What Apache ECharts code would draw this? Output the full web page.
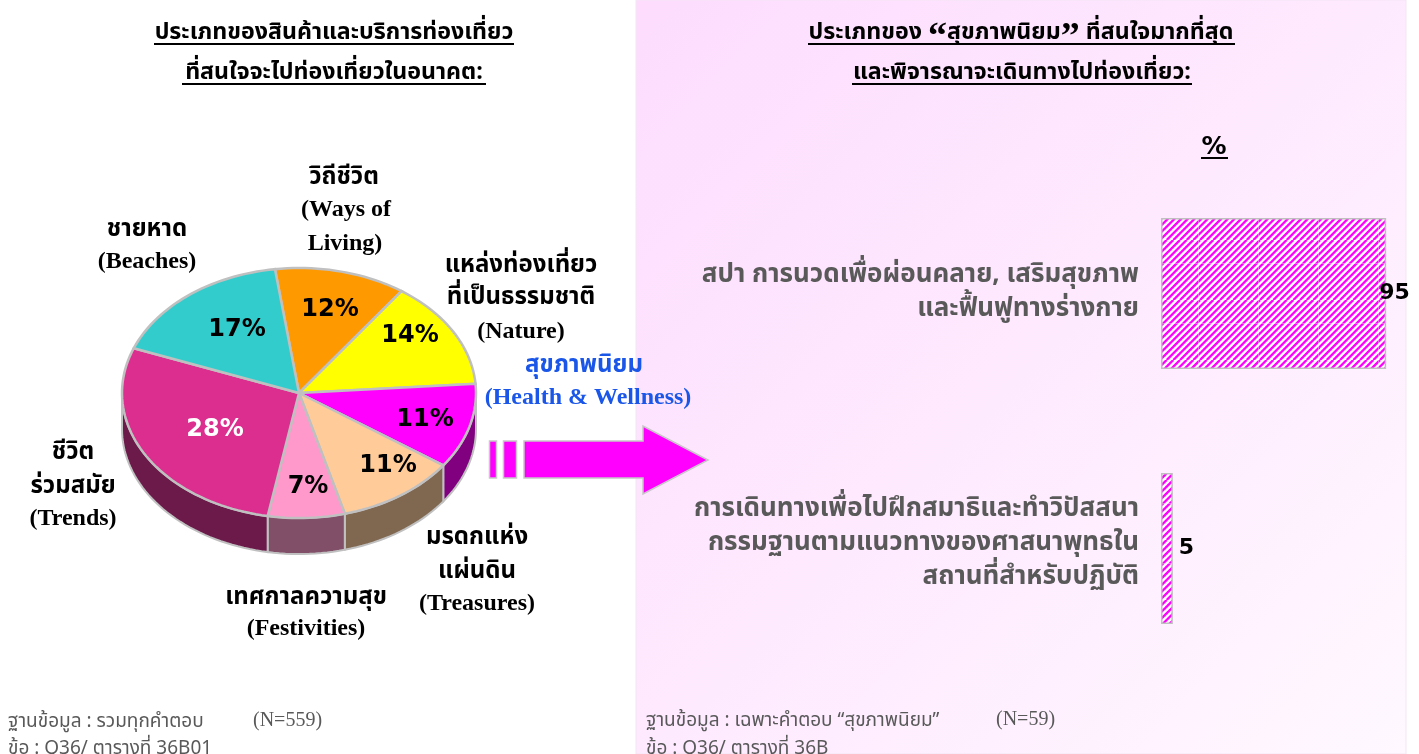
<!DOCTYPE html>
<html>
<head>
<meta charset="utf-8">
<title>Chart</title>
<script src="https://cdn.jsdelivr.net/npm/echarts@6/dist/echarts.min.js"></script>
<style>
html, body { margin: 0; padding: 0; background: #fff; overflow: hidden; }
#chart { width: 1419px; height: 754px; }
</style>
</head>
<body>
<div id="chart"></div>
<script>
// pie, clockwise from the top
const pieNames = ['วิถีชีวิต', 'แหล่งท่องเที่ยวธรรมชาติ', 'สุขภาพนิยม', 'มรดกแห่งแผ่นดิน', 'เทศกาลความสุข', 'ชีวิตร่วมสมัย', 'ชายหาด']
const pieValues = [12, 14, 11, 11, 7, 28, 17]
const pieColors = ['#ff9900', '#ffff00', '#ff00ff', '#ffcc99', '#ff99cc', '#db2e8f', '#33cccc']
const wallColors = ['#805000', '#808000', '#800080', '#806750', '#824f69', '#6b1a4a', '#1a6666']

// bars
const barCategories = [
  'สปา การนวดเพื่อผ่อนคลาย, เสริมสุขภาพ\nและฟื้นฟูทางร่างกาย',
  'การเดินทางเพื่อไปฝึกสมาธิและทำวิปัสสนา\nกรรมฐานตามแนวทางของศาสนาพุทธใน\nสถานที่สำหรับปฏิบัติ'
]
const barValues = [95, 5]
const barLabelOffsets = [[-13, 0], [0, 0]]

const THAI = '"Noto Sans Thai", "Noto Serif Thai", "Liberation Serif", "DejaVu Sans", sans-serif'
const SANS = '"DejaVu Sans", sans-serif'
const SERIF = '"Liberation Serif", serif'

const PIE = { cx: 299, cy: 393, rx: 177, ry: 125, depth: 36, start: -7.8 }
const pctPos = [[330, 310], [410, 336], [425, 420], [388, 466], [308, 487], [215, 430], [237, 330]]

const pt = (deg, dy = 0) => {
  const a = deg * Math.PI / 180
  return [PIE.cx + PIE.rx * Math.sin(a), PIE.cy + dy - PIE.ry * Math.cos(a)]
}

const arc = (from, to, dy = 0) => {
  const pts = []
  const n = Math.max(2, Math.ceil((to - from) / 2))
  for (let i = 0; i <= n; i++) pts.push(pt(from + (to - from) * i / n, dy))
  return pts
}

const sliceRange = (idx) => {
  const total = pieValues.reduce((a, b) => a + b, 0)
  const before = pieValues.slice(0, idx).reduce((a, b) => a + b, 0)
  return [PIE.start + before / total * 360, PIE.start + (before + pieValues[idx]) / total * 360]
}

const renderWall = (params) => {
  const [from, to] = sliceRange(params.dataIndex)
  // only the near half of the rim shows
  const a = Math.max(from, 90)
  const b = Math.min(to, 270)
  if (b <= a) return { type: 'group', children: [] }
  return {
    type: 'polygon',
    shape: { points: arc(a, b).concat(arc(a, b, PIE.depth).reverse()) },
    style: { fill: wallColors[params.dataIndex], stroke: '#c0c0c0', lineWidth: 2 }
  }
}

const renderTop = (params, api) => {
  const [from, to] = sliceRange(params.dataIndex)
  return {
    type: 'group',
    children: [
      {
        type: 'polygon',
        shape: { points: [[PIE.cx, PIE.cy]].concat(arc(from, to)) },
        style: { fill: pieColors[params.dataIndex], stroke: '#c0c0c0', lineWidth: 2.5 }
      },
      {
        type: 'text',
        z2: 10,
        style: {
          x: pctPos[params.dataIndex][0],
          y: pctPos[params.dataIndex][1],
          text: api.value(0) + '%',
          align: 'center',
          verticalAlign: 'middle',
          fill: params.dataIndex === 5 ? '#fff' : '#000',
          font: 'bold 24px ' + SANS
        }
      }
    ]
  }
}

// hatched bar fill, 60px tile with the faint seam the original has
const makeHatch = () => {
  const c = document.createElement('canvas')
  c.width = 60
  c.height = 60
  const ctx = c.getContext('2d')
  ctx.fillStyle = '#fff'
  ctx.fillRect(0, 0, 60, 60)
  ctx.strokeStyle = '#ff00ff'
  ctx.lineWidth = 2.4
  const step = 60 / 9
  for (let i = -9; i <= 18; i++) {
    ctx.beginPath()
    ctx.moveTo(i * step, 60)
    ctx.lineTo(i * step + 60, 0)
    ctx.stroke()
  }
  ctx.fillStyle = 'rgba(255,255,255,0.35)'
  ctx.fillRect(58, 0, 1, 60)
  ctx.fillRect(0, 23, 60, 1)
  return c
}

const textEl = (x, y, text, font, fill, align = 'center', rich) => ({
  type: 'text',
  x,
  y,
  style: { text, font, fill, align, verticalAlign: 'middle', rich }
})

const underline = (x1, x2, y) => ({
  type: 'line',
  shape: { x1, y1: y, x2, y2: y },
  style: { stroke: '#000', lineWidth: 2 }
})

const arrowStyle = { fill: '#ff00ff', stroke: '#c8c8c8', lineWidth: 1.5 }
const titleFont = 'bold 23.2px ' + THAI
const labelFont = 'bold 24px ' + THAI
const latinFont = 'bold 24px ' + SERIF
const noteFont = '19px ' + THAI
const noteLatin = '20px ' + SERIF
const BLUE = '#1a56e8'
const GREY = '#595959'

const graphics = [
  {
    type: 'rect',
    z: -10,
    shape: { x: 636, y: 0, width: 770, height: 754 },
    style: {
      fill: new echarts.graphic.LinearGradient(0, 0, 1, 1, [
        { offset: 0, color: '#fddcfe' },
        { offset: 1, color: '#fff8ff' }
      ]),
      stroke: '#f3e6f3',
      lineWidth: 1
    }
  },
  textEl(334, 34, 'ประเภทของสินค้าและบริการท่องเที่ยว', titleFont, '#000'),
  textEl(334, 74, 'ที่สนใจจะไปท่องเที่ยวในอนาคต:', titleFont, '#000'),
  underline(154, 514, 44),
  underline(182, 486, 84),
  textEl(1021, 34, 'ประเภทของ {q|“}สุขภาพนิยม{q|”} ที่สนใจมากที่สุด', titleFont, '#000', 'center', {
    q: { font: 'bold 38px ' + SERIF, fill: '#000', padding: [8, 0, 0, 0] }
  }),
  textEl(1022, 74, 'และพิจารณาจะเดินทางไปท่องเที่ยว:', titleFont, '#000'),
  underline(808, 1235, 44),
  underline(852, 1192, 84),
  textEl(1214, 147, '%', 'bold 25px ' + SANS, '#000'),
  underline(1201, 1228, 158),

  textEl(344, 179, 'วิถีชีวิต', labelFont, '#000'),
  textEl(346, 210, '(Ways of', latinFont, '#000'),
  textEl(345, 244, 'Living)', latinFont, '#000'),
  textEl(147, 231, 'ชายหาด', labelFont, '#000'),
  textEl(147, 262, '(Beaches)', latinFont, '#000'),
  textEl(521, 267, 'แหล่งท่องเที่ยว', labelFont, '#000'),
  textEl(521, 299, 'ที่เป็นธรรมชาติ', labelFont, '#000'),
  textEl(521, 332, '(Nature)', latinFont, '#000'),
  textEl(584, 367, 'สุขภาพนิยม', labelFont, BLUE),
  textEl(588, 398, '(Health & Wellness)', latinFont, BLUE),
  textEl(477, 539, 'มรดกแห่ง', labelFont, '#000'),
  textEl(477, 573, 'แผ่นดิน', labelFont, '#000'),
  textEl(477, 604, '(Treasures)', latinFont, '#000'),
  textEl(306, 599, 'เทศกาลความสุข', labelFont, '#000'),
  textEl(306, 629, '(Festivities)', latinFont, '#000'),
  textEl(73, 454, 'ชีวิต', labelFont, '#000'),
  textEl(73, 488, 'ร่วมสมัย', labelFont, '#000'),
  textEl(73, 519, '(Trends)', latinFont, '#000'),

  { type: 'rect', shape: { x: 489.5, y: 441, width: 7, height: 37 }, style: arrowStyle },
  { type: 'rect', shape: { x: 503.5, y: 441, width: 13, height: 37 }, style: arrowStyle },
  {
    type: 'polygon',
    shape: { points: [[524, 441], [643, 441], [643, 426], [708, 460], [643, 494], [643, 478], [524, 478]] },
    style: arrowStyle
  },

  textEl(8, 723, 'ฐานข้อมูล : รวมทุกคำตอบ', noteFont, GREY, 'left'),
  textEl(253, 721, '(N=559)', noteLatin, GREY, 'left'),
  textEl(8, 750, 'ข้อ : Q36/ ตารางที่ 36B01', noteFont, GREY, 'left'),
  textEl(646, 722, 'ฐานข้อมูล : เฉพาะคำตอบ “สุขภาพนิยม”', noteFont, GREY, 'left'),
  textEl(996, 720, '(N=59)', noteLatin, GREY, 'left'),
  textEl(646, 750, 'ข้อ : Q36/ ตารางที่ 36B', noteFont, GREY, 'left')
]

const chart = echarts.init(document.getElementById('chart'), null, { renderer: 'canvas' })

chart.setOption({
  animation: false,
  backgroundColor: '#fff',
  graphic: graphics,
  grid: { left: 1161, top: 166, width: 237, height: 510 },
  xAxis: { type: 'value', min: 0, max: 100, show: false },
  yAxis: {
    type: 'category',
    inverse: true,
    data: barCategories,
    axisLine: { show: false },
    axisTick: { show: false },
    axisLabel: {
      margin: 22,
      align: 'right',
      color: GREY,
      fontFamily: THAI,
      fontWeight: 'bold',
      fontSize: 26,
      lineHeight: 34,
      // second label sits a little above its band centre
      formatter: (value, i) => (i === 1 ? value + '\n{gap|}' : value),
      rich: { gap: { lineHeight: 8, height: 8 } }
    }
  },
  series: [
    {
      type: 'bar',
      data: barValues.map((value, i) => ({ value, label: { offset: barLabelOffsets[i] } })),
      barWidth: 151,
      itemStyle: {
        color: { image: makeHatch(), repeat: 'repeat' },
        borderColor: '#c0c0c0',
        borderWidth: 1.5
      },
      label: {
        show: true,
        position: 'right',
        distance: 6,
        color: '#000',
        fontFamily: SANS,
        fontWeight: 'bold',
        fontSize: 22
      }
    },
    {
      type: 'custom',
      coordinateSystem: 'none',
      name: 'wall',
      z: 3,
      renderItem: renderWall,
      data: pieValues,
      silent: true
    },
    {
      type: 'custom',
      coordinateSystem: 'none',
      name: 'top',
      z: 4,
      renderItem: renderTop,
      data: pieValues,
      silent: true
    }
  ]
})
</script>
</body>
</html>
